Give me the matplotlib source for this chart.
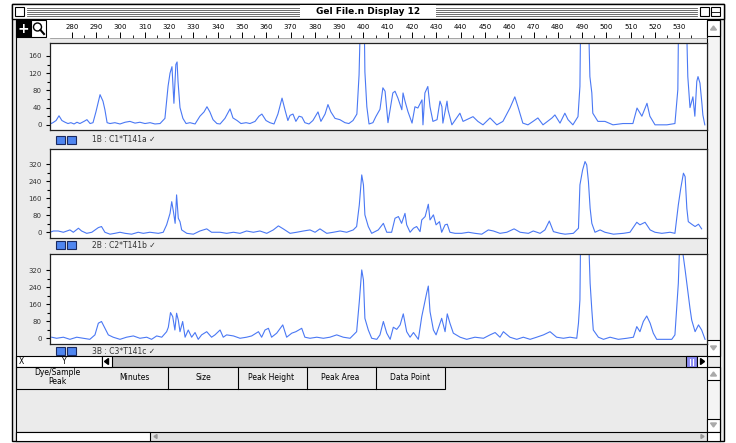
import matplotlib
matplotlib.use('Agg')
import matplotlib.pyplot as plt
from matplotlib.patches import Rectangle, Polygon

# ---- data (size in bp, signal height) ----
c1_size = [271.0, 272.2, 273.5, 274.7, 275.9, 277.2, 278.4, 279.6, 280.9, 282.1, 283.3, 285.0, 286.2,
           287.5, 288.7, 289.9, 291.6, 292.8, 293.6, 294.5, 295.7, 297.7, 299.8, 301.9, 303.9, 306.0,
           308.0, 310.1, 312.2, 314.2, 316.3, 318.3, 319.6, 320.4, 321.2, 322.0, 322.8, 323.3, 323.7,
           324.5, 325.7, 327.0, 328.6, 330.7, 332.7, 334.4, 335.6, 336.8, 338.1, 339.7, 341.0, 343.0,
           345.1, 346.3, 348.0, 349.6, 351.7, 353.3, 355.4, 357.0, 358.2, 359.9, 361.5, 363.2, 364.8,
           366.5, 367.7, 368.9, 369.8, 371.0, 372.2, 373.5, 374.7, 375.9, 377.6, 379.2, 381.3, 382.5,
           384.2, 385.4, 386.6, 388.3, 390.3, 392.4, 394.0, 395.7, 397.3, 398.2, 399.0, 400.2, 400.6,
           401.4, 402.3, 403.9, 405.1, 406.8, 408.0, 408.9, 410.1, 412.1, 413.0, 414.2, 415.8, 416.3,
           417.1, 418.3, 420.0, 421.2, 422.4, 424.1, 424.5, 425.3, 426.5, 427.4, 428.6, 430.3, 431.5,
           432.3, 432.7, 434.4, 434.8, 436.4, 439.7, 441.0, 445.1, 447.1, 449.2, 452.1, 454.9, 457.4,
           460.3, 462.3, 463.6, 465.6, 467.7, 469.8, 471.8, 473.9, 477.6, 478.8, 480.9, 482.9, 484.2,
           486.2, 488.3, 489.1, 489.5, 492.4, 493.2, 494.0, 494.4, 496.5, 499.4, 502.7, 506.8, 510.9,
           512.6, 514.6, 516.7, 517.9, 520.0, 524.9, 528.2, 529.4, 529.8, 532.7, 533.5, 534.4, 535.6,
           536.4, 537.2, 537.7, 538.5, 539.3, 539.7, 540.5]
c1_height = [2, 5, 10, 21, 10, 6, 3, 5, 2, 6, 3, 8, 12,
             3, 5, 30, 70, 55, 35, 5, 3, 5, 2, 6, 8, 4,
             6, 3, 5, 2, 3, 15, 90, 120, 135, 50, 140, 146, 100,
             40, 15, 3, 5, 2, 20, 30, 42, 30, 12, 3, 2, 15,
             37, 16, 10, 3, 5, 3, 8, 20, 25, 10, 5, 2, 25,
             62, 35, 10, 22, 25, 8, 20, 18, 5, 2, 10, 30, 8,
             25, 47, 30, 15, 12, 5, 3, 10, 25, 116, 300, 300, 123,
             42, 2, 5, 19, 36, 86, 78, 5, 74, 78, 62, 35, 74,
             55, 31, 4, 42, 39, 58, 0, 74, 89, 42, 8, 12, 55,
             42, 4, 55, 35, 0, 27, 8, 19, 8, 0, 16, 0, 8,
             39, 65, 42, 4, 0, 8, 16, 0, 16, 23, 4, 27, 12,
             0, 19, 89, 300, 300, 112, 74, 27, 8, 8, 0, 3, 3,
             39, 20, 50, 20, 0, 0, 3, 82, 300, 300, 112, 40, 65,
             20, 101, 112, 97, 50, 23, 0]

c2_size = [271.0, 272.4, 274.4, 276.5, 279.2, 280.6, 282.7, 284.0, 286.1, 288.2, 290.9, 292.2, 293.6,
           295.7, 297.7, 299.8, 301.9, 304.6, 307.3, 309.4, 312.1, 315.6, 317.6, 319.0, 320.4, 321.1,
           321.8, 322.5, 323.1, 323.8, 324.5, 325.2, 327.3, 330.0, 332.7, 335.5, 337.5, 341.0, 343.7,
           346.5, 349.2, 351.9, 354.7, 357.4, 360.2, 362.9, 365.0, 367.0, 369.8, 372.5, 375.3, 378.0,
           380.1, 382.1, 384.9, 387.6, 390.4, 393.1, 395.8, 397.2, 398.3, 399.3, 400.0, 400.6, 402.0,
           403.4, 406.1, 408.2, 409.6, 411.6, 413.0, 414.4, 415.7, 417.1, 417.8, 419.2, 420.6, 421.9,
           423.3, 424.0, 425.4, 426.7, 427.4, 428.8, 429.9, 431.3, 432.2, 433.6, 434.5, 435.6, 437.7,
           440.4, 443.2, 445.9, 448.7, 451.4, 453.5, 456.2, 459.0, 462.0, 464.5, 467.9, 469.9, 472.7,
           474.7, 476.5, 478.2, 480.9, 483.0, 486.4, 488.5, 489.1, 490.2, 491.2, 491.9, 492.6, 493.3,
           494.0, 495.3, 497.4, 499.4, 502.9, 507.0, 509.7, 512.5, 513.8, 515.9, 518.0, 520.0, 522.8,
           526.2, 528.2, 529.6, 530.6, 531.7, 532.4, 533.1, 533.7, 535.1, 536.5, 537.9, 539.2]
c2_height = [0, 6, 6, 0, 11, 0, 19, 6, -5, 0, 22, 27, 0,
             -9, -5, 0, -5, -9, 0, -5, 0, -5, 0, 35, 89, 144,
             97, 42, 176, 66, 50, 11, -5, -9, 6, 16, 0, 0, -5,
             0, -5, 6, 0, 6, -5, 11, 30, 16, -5, 0, 6, 11,
             0, 16, -5, 0, 6, 0, 11, 27, 129, 270, 223, 82, 27,
             -5, 11, 42, 0, 0, 66, 74, 42, 89, 35, 0, 19, 27,
             3, 58, 74, 132, 58, 82, 35, 50, 0, 35, 38, 0, -5,
             -5, 0, -5, -9, 11, 6, -5, 0, 16, 0, -5, 6, -5,
             11, 53, 3, -5, -9, -5, 19, 223, 293, 333, 317, 239, 113,
             42, 0, 11, 0, -9, -5, 0, 47, 35, 47, 11, 0, -5,
             0, -5, 129, 207, 278, 262, 113, 50, 38, 27, 38, 16]

c3_size = [271.7, 273.7, 276.5, 279.2, 282.0, 284.7, 287.4, 289.5, 290.9, 292.2, 293.6, 295.0, 297.0,
           299.8, 302.5, 305.3, 308.0, 310.8, 312.8, 314.9, 317.0, 319.0, 319.7, 320.6, 321.5, 322.4,
           323.1, 323.8, 324.5, 325.6, 326.6, 327.9, 329.3, 330.7, 332.0, 333.4, 335.5, 337.5, 338.9,
           341.0, 342.3, 343.7, 346.5, 349.2, 351.9, 354.0, 356.8, 358.1, 359.5, 360.9, 362.2, 364.3,
           366.8, 368.4, 370.5, 372.2, 374.6, 375.9, 378.0, 380.8, 383.5, 386.2, 389.0, 391.7, 394.5,
           397.2, 398.3, 399.3, 400.0, 400.6, 402.0, 403.4, 405.5, 406.8, 408.2, 409.6, 411.0, 412.3,
           413.7, 415.1, 416.4, 417.8, 419.2, 420.6, 422.6, 424.0, 424.7, 426.0, 426.7, 427.4, 428.8,
           429.9, 430.8, 432.2, 433.6, 434.5, 435.6, 437.0, 439.8, 442.5, 445.9, 449.4, 452.1, 454.2,
           456.2, 457.6, 460.3, 463.1, 465.8, 468.6, 471.3, 474.1, 476.8, 479.5, 482.3, 485.0, 487.8,
           488.5, 489.1, 489.4, 492.6, 493.3, 494.0, 494.6, 496.7, 498.8, 501.5, 504.9, 508.4, 511.1,
           512.5, 513.8, 515.2, 516.6, 518.0, 519.3, 520.7, 523.4, 526.9, 528.2, 529.6, 530.3, 532.4,
           533.7, 534.4, 535.1, 536.5, 537.9, 539.2, 540.6]
c3_height = [5, 0, 5, -5, 5, 0, -5, 16, 71, 79, 47, 16, 5,
             -5, 5, 11, 0, 5, -5, 11, 5, 31, 52, 121, 102, 39,
             118, 86, 31, 79, 5, 39, 5, 27, -5, 16, 31, 5, 16,
             39, 5, 16, 11, 0, 5, 11, 31, 5, 39, 47, 5, 24,
             63, 5, 24, 31, 47, 5, 0, 5, 0, 5, 16, 5, 0,
             31, 173, 322, 275, 94, 39, 0, -5, 16, 79, 24, -5, 52,
             42, 63, 115, 31, 5, 27, -5, 102, 141, 212, 246, 126, 39,
             16, 47, 94, 31, 115, 71, 24, 5, -5, 5, 0, 16, 27,
             5, 31, 5, -5, 5, -5, 5, 16, 31, 5, 0, 5, 0,
             71, 181, 500, 500, 259, 133, 39, 5, -5, 5, -5, 0, 5,
             55, 31, 79, 105, 71, 24, -5, -5, -5, 16, 259, 500, 322,
             204, 141, 86, 31, 63, 39, -5]

traces = [(c1_size, c1_height), (c2_size, c2_height), (c3_size, c3_height)]
lane_labels = ['1B : C1*T141a \u2713', '2B : C2*T141b \u2713', '3B : C3*T141c \u2713']
y_ticks = [[0, 40, 80, 120, 160], [0, 80, 160, 240, 320], [0, 80, 160, 240, 320]]
y_limits = [(-12, 190), (-27, 392), (-27, 397)]
ruler_sizes = list(range(280, 531, 10))
x_limits = (271, 541.4)
table_cols = ['Dye/Sample\nPeak', 'Minutes', 'Size', 'Peak Height', 'Peak Area', 'Data Point']
window_title = 'Gel File.n Display 12'

W, H = 736, 443
BLUE = '#4a78f4'
GRAY = '#ebebeb'


def frect(x0, y0, x1, y1):
    # pixel box (top-left origin) -> figure fraction
    return [x0 / W, 1 - y1 / H, (x1 - x0) / W, (y1 - y0) / H]


fig = plt.figure(figsize=(W / 100, H / 100), dpi=100)
fig.patch.set_facecolor('white')

bg = fig.add_axes([0, 0, 1, 1])
bg.set_xlim(0, W)
bg.set_ylim(H, 0)
bg.axis('off')


def box(x0, y0, x1, y1, fc='none', ec='black', lw=0.8, z=1):
    bg.add_patch(Rectangle((x0, y0), x1 - x0, y1 - y0, facecolor=fc, edgecolor=ec, linewidth=lw, zorder=z))


# window body
box(12, 4, 724, 441, fc=GRAY, ec='black', lw=1.0)
bg.plot([16, 16], [19, 441], color='black', lw=0.8)
bg.plot([720, 720], [19, 441], color='black', lw=0.8)

# title bar
box(12, 4, 724, 19, fc='white', ec='black', lw=1.0)
for yy in (7.5, 9.5, 11.5, 13.5, 15.5):
    bg.plot([27, 697], [yy, yy], color='#555555', lw=0.6)
box(300, 5, 436, 18, fc='white', ec='none', z=2)
bg.text(368, 11.5, window_title, ha='center', va='center', fontsize=6.5, fontweight='bold', zorder=3)
box(15, 7, 24, 16, fc='white', ec='black', lw=0.8, z=3)
box(700, 7, 709, 16, fc='white', ec='black', lw=0.8, z=3)
box(711, 7, 720, 16, fc='white', ec='black', lw=0.8, z=3)
bg.plot([711, 720], [11.5, 11.5], color='black', lw=0.6, zorder=4)

# tool icons
box(16, 20, 31, 37, fc='black', ec='black', z=2)
bg.text(23.5, 28.5, '+', color='white', ha='center', va='center', fontsize=10, fontweight='bold', zorder=3)
box(31, 20, 46, 37, fc='white', ec='black', z=2)
bg.add_patch(plt.Circle((37.5, 27), 4, facecolor='white', edgecolor='black', lw=1.0, zorder=3))
bg.plot([40.5, 44], [30, 34], color='black', lw=1.5, zorder=3)

# ruler strip
box(46, 20, 707, 38, fc='white', ec='none', z=1)

# right scrollbar for traces
box(707, 20, 720, 356, fc='#f4f4f4', ec='black', lw=0.8)
box(707, 20, 720, 36, fc='white', ec='black', lw=0.8)
bg.add_patch(Polygon([[710.5, 30], [716.5, 30], [713.5, 26]], color='#aaaaaa', zorder=3))
box(707, 340, 720, 356, fc='white', ec='black', lw=0.8)
bg.add_patch(Polygon([[710.5, 346], [716.5, 346], [713.5, 350]], color='#aaaaaa', zorder=3))

# panels
panel_boxes = [(50, 43, 707, 130), (50, 149, 707, 238), (50, 254, 707, 344)]
label_rows = [140, 245, 351]
for i, ((xs, ys), pb) in enumerate(zip(traces, panel_boxes)):
    ax = fig.add_axes(frect(*pb))
    ax.set_facecolor('white')
    ax.plot(xs, ys, color=BLUE, lw=0.8)
    ax.set_xlim(*x_limits)
    ax.set_ylim(*y_limits[i])
    ax.set_xticks([])
    ticks = y_ticks[i]
    ax.set_yticks(ticks)
    ax.set_yticks([(a + b) / 2 for a, b in zip(ticks[:-1], ticks[1:])], minor=True)
    ax.tick_params(axis='y', which='major', length=3, width=0.8, labelsize=5, pad=3,
                   labelcolor='#333333')
    ax.tick_params(axis='y', which='minor', length=2, width=0.8)
    for s in ax.spines.values():
        s.set_color('#222222')
        s.set_linewidth(0.9)

    yl = label_rows[i]
    box(56, yl - 4, 65, yl + 4, fc='#4f86f0', ec='#1a2a60', lw=0.8, z=2)
    box(67, yl - 4, 76, yl + 4, fc='#4f86f0', ec='#1a2a60', lw=0.8, z=2)
    bg.text(92, yl, lane_labels[i], ha='left', va='center', fontsize=5.5, color='#333333')

# ruler axes (same size scale as the traces)
rax = fig.add_axes(frect(50, 31, 707, 38))
rax.set_xlim(*x_limits)
rax.set_ylim(0, 1)
rax.patch.set_alpha(0)
for s in ('left', 'right', 'top'):
    rax.spines[s].set_visible(False)
rax.spines['bottom'].set_color('#888888')
rax.spines['bottom'].set_linewidth(0.5)
rax.set_yticks([])
rax.set_xticks(ruler_sizes)
rax.set_xticklabels([str(v) for v in ruler_sizes])
rax.set_xticks([v + 5 for v in ruler_sizes], minor=True)
rax.tick_params(axis='x', which='major', direction='in', length=4, width=0.7,
                labelbottom=False, labeltop=True, top=False, labelsize=5, pad=1)
rax.tick_params(axis='x', which='minor', direction='in', length=2, width=0.6)

# horizontal scroll row
box(16, 356, 102, 367, fc='white', ec='black', lw=0.8)
bg.text(19, 361.5, 'X', fontsize=5.5, va='center')
bg.text(62, 361.5, 'Y', fontsize=5.5, va='center')
box(102, 356, 707, 367, fc='#bdbdbd', ec='black', lw=0.8)
box(102, 356, 112, 367, fc='white', ec='black', lw=0.8, z=2)
bg.add_patch(Polygon([[104.5, 361.5], [108.5, 358.5], [108.5, 364.5]], color='black', zorder=3))
box(686, 356, 697, 367, fc='#8c8cf5', ec='black', lw=0.8, z=2)
bg.plot([690, 690], [358.5, 364.5], color='white', lw=0.8, zorder=3)
bg.plot([693, 693], [358.5, 364.5], color='white', lw=0.8, zorder=3)
box(697, 356, 707, 367, fc='white', ec='black', lw=0.8, z=2)
bg.add_patch(Polygon([[704.5, 361.5], [700.5, 358.5], [700.5, 364.5]], color='black', zorder=3))

# peak table header
col_edges = [16, 168, 238, 307, 376, 445]
col_centers = [57, 134, 203, 271, 340, 410]
box(16, 367, 445, 389, fc=GRAY, ec='black', lw=0.8)
for xe in col_edges[1:-1]:
    bg.plot([xe, xe], [367, 389], color='black', lw=0.8)
for name, xc in zip(table_cols, col_centers):
    bg.text(xc, 377, name, ha='center', va='center', fontsize=5.5, linespacing=1.1)

# table scrollbar
box(707, 367, 720, 432, fc='#f4f4f4', ec='black', lw=0.8)
box(707, 367, 720, 380, fc='white', ec='black', lw=0.8)
bg.add_patch(Polygon([[710.5, 376], [716.5, 376], [713.5, 372]], color='#aaaaaa', zorder=3))
box(707, 419, 720, 432, fc='white', ec='black', lw=0.8)
bg.add_patch(Polygon([[710.5, 423], [716.5, 423], [713.5, 427]], color='#aaaaaa', zorder=3))

# bottom scroll row
box(16, 432, 707, 441, fc='#e2e2e2', ec='black', lw=0.8)
box(16, 432, 150, 441, fc='white', ec='black', lw=0.8, z=2)
bg.add_patch(Polygon([[154, 436.5], [157, 434.5], [157, 438.5]], color='#999999', zorder=3))
bg.add_patch(Polygon([[704, 436.5], [701, 434.5], [701, 438.5]], color='#999999', zorder=3))
box(707, 432, 720, 441, fc='white', ec='black', lw=0.8)

fig.savefig('out.png', dpi=100)
